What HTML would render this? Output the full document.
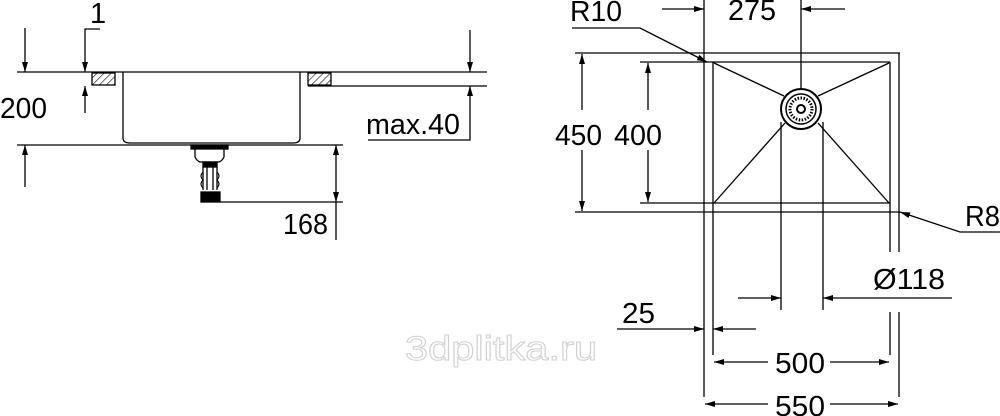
<!DOCTYPE html>
<html><head><meta charset="utf-8"><style>
html,body{margin:0;padding:0;background:#fff;}
svg{display:block}
text{font-family:"Liberation Sans",Arial,sans-serif;fill:#000;}
</style></head><body>
<svg width="1000" height="416" viewBox="0 0 1000 416" xmlns="http://www.w3.org/2000/svg">
<defs>
<marker id="a" viewBox="0 0 10 6" refX="10" refY="3" markerWidth="11" markerHeight="6" markerUnits="userSpaceOnUse" orient="auto"><path d="M0,0 L10,3 L0,6 Z" fill="#000"/></marker>
<pattern id="h" width="5" height="5" patternUnits="userSpaceOnUse" patternTransform="rotate(45)"><line x1="0" y1="0" x2="0" y2="5" stroke="#000" stroke-width="1.2"/></pattern>
</defs>
<g stroke="#000" stroke-width="1.3" fill="none">
<line x1="17" y1="72" x2="487" y2="72"/>
<line x1="308" y1="86" x2="487" y2="86"/>
<rect x="92" y="73" width="23" height="12" fill="url(#h)"/>
<rect x="308" y="73" width="23" height="12" fill="url(#h)"/>
<path d="M123,72 V138 Q123,143 130,143 H293 Q300,143 300,138 V72"/>
<line x1="17" y1="145" x2="343" y2="145"/>
<rect x="191" y="145" width="37" height="4" fill="#000"/>
<path d="M195,149 V157 Q197,161 200,162 H219 Q222,161 224,157 V149"/>
<rect x="203" y="162" width="14" height="5" fill="#000"/>
<path d="M203,167 V190 M217,167 V190 M207,167 V190 M213,167 V190"/>
<path d="M203,172 q-4,4 0,8 q-4,4 0,8 M217,172 q4,4 0,8 q4,4 0,8" stroke-width="1"/>
<rect x="201" y="192" width="19" height="10" fill="#000"/>
<line x1="220" y1="202" x2="343" y2="202"/>
<line x1="25" y1="28" x2="25" y2="72" marker-end="url(#a)"/>
<line x1="25" y1="187" x2="25" y2="145" marker-end="url(#a)"/>
<path d="M100,29 H85 V72" marker-end="url(#a)"/>
<line x1="85" y1="113" x2="85" y2="86" marker-end="url(#a)"/>
<line x1="470" y1="30" x2="470" y2="72" marker-end="url(#a)"/>
<path d="M368,140 H470 V86" marker-end="url(#a)"/>
<line x1="336" y1="175" x2="336" y2="145" marker-end="url(#a)"/>
<line x1="336" y1="175" x2="336" y2="202" marker-end="url(#a)"/>
<line x1="336" y1="202" x2="336" y2="240"/>

<line x1="575" y1="53" x2="900" y2="53"/>
<line x1="575" y1="212" x2="900" y2="212"/>
<line x1="640" y1="62" x2="890" y2="62"/>
<line x1="640" y1="203" x2="890" y2="203"/>
<line x1="704" y1="0" x2="704" y2="397"/>
<line x1="899" y1="53" x2="899" y2="252"/>
<line x1="899" y1="312" x2="899" y2="397"/>
<line x1="713" y1="62" x2="713" y2="355"/>
<line x1="890" y1="62" x2="890" y2="252"/>
<line x1="890" y1="312" x2="890" y2="355"/>
<line x1="801" y1="0" x2="801" y2="90"/>
<line x1="781" y1="122" x2="781" y2="310"/>
<line x1="823" y1="122" x2="823" y2="310"/>
<line x1="714" y1="63" x2="784" y2="96"/>
<line x1="889" y1="63" x2="818" y2="96"/>
<line x1="714" y1="203" x2="785" y2="123"/>
<line x1="889" y1="203" x2="818" y2="123"/>
<circle cx="801" cy="109" r="20" stroke-width="2"/>
<circle cx="801" cy="109" r="15" stroke-width="1.5"/>
<circle cx="801" cy="109" r="11" stroke-width="3" stroke-dasharray="1.5 1.5"/>
<circle cx="801" cy="109" r="4" stroke-width="2"/>
<line x1="662" y1="9" x2="704" y2="9" marker-end="url(#a)"/>
<line x1="845" y1="9" x2="801" y2="9" marker-end="url(#a)"/>
<path d="M572,28 H640 L707,62" marker-end="url(#a)"/>
<line x1="582" y1="110" x2="582" y2="54" marker-end="url(#a)"/>
<line x1="582" y1="150" x2="582" y2="211" marker-end="url(#a)"/>
<line x1="648" y1="110" x2="648" y2="63" marker-end="url(#a)"/>
<line x1="648" y1="150" x2="648" y2="202" marker-end="url(#a)"/>
<path d="M1000,232 H960 L900,212" marker-end="url(#a)"/>
<line x1="738" y1="298" x2="781" y2="298" marker-end="url(#a)"/>
<line x1="952" y1="298" x2="823" y2="298" marker-end="url(#a)"/>
<line x1="617" y1="329" x2="704" y2="329" marker-end="url(#a)"/>
<line x1="756" y1="329" x2="713" y2="329" marker-end="url(#a)"/>
<line x1="768" y1="362" x2="714" y2="362" marker-end="url(#a)"/>
<line x1="830" y1="362" x2="889" y2="362" marker-end="url(#a)"/>
<line x1="768" y1="404" x2="705" y2="404" marker-end="url(#a)"/>
<line x1="830" y1="404" x2="898" y2="404" marker-end="url(#a)"/>
</g>
<g font-size="29">
<text x="90" y="23">1</text>
<text x="0" y="118" textLength="47" lengthAdjust="spacingAndGlyphs">200</text>
<text x="366" y="134" textLength="94" lengthAdjust="spacingAndGlyphs">max.40</text>
<text x="283" y="234" textLength="45" lengthAdjust="spacingAndGlyphs">168</text>
<text x="570" y="21" textLength="52" lengthAdjust="spacingAndGlyphs">R10</text>
<text x="728" y="20" textLength="48" lengthAdjust="spacingAndGlyphs">275</text>
<text x="555" y="145" textLength="47" lengthAdjust="spacingAndGlyphs">450</text>
<text x="614" y="145" textLength="48" lengthAdjust="spacingAndGlyphs">400</text>
<text x="965" y="226" textLength="35" lengthAdjust="spacingAndGlyphs">R8</text>
<text x="873" y="289" textLength="72" lengthAdjust="spacingAndGlyphs">Ø118</text>
<text x="622" y="323" textLength="33" lengthAdjust="spacingAndGlyphs">25</text>
<text x="775" y="373" textLength="50" lengthAdjust="spacingAndGlyphs">500</text>
<text x="775" y="416" textLength="50" lengthAdjust="spacingAndGlyphs">550</text>
</g>
<text x="405" y="360" font-size="34" textLength="192" lengthAdjust="spacingAndGlyphs" stroke="#d0d0d0" stroke-width="1" style="fill:#fff">3dplitka.ru</text>
</svg>
</body></html>
